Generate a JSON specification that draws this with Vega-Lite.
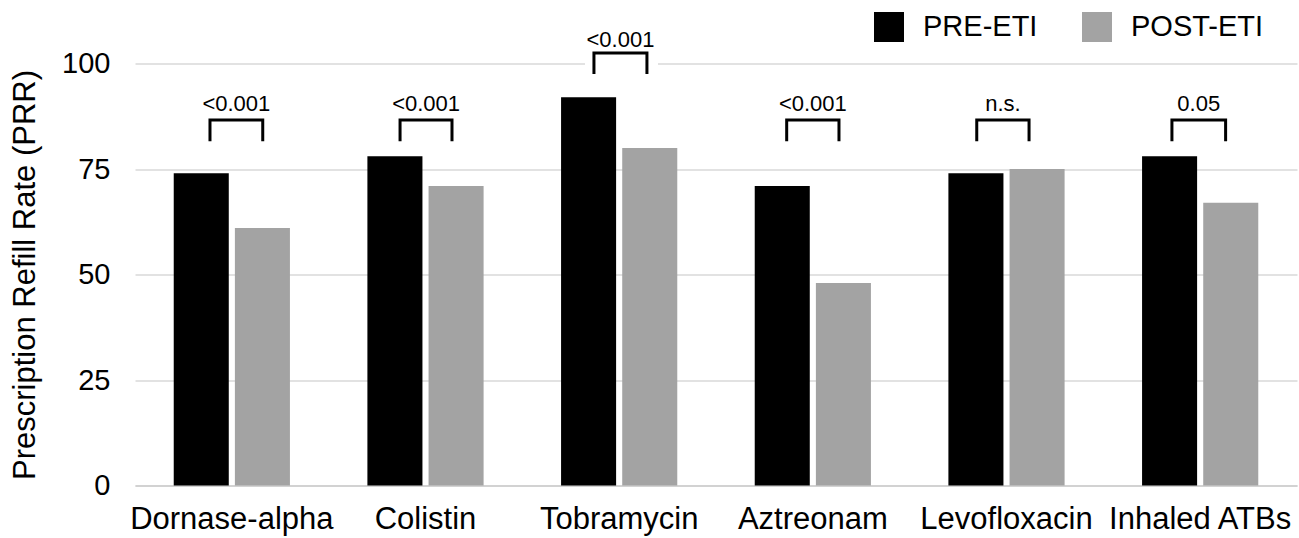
{
  "$schema": "https://vega.github.io/schema/vega-lite/v6.json",
  "width": 1162,
  "height": 422,
  "autosize": {"type": "none"},
  "padding": {"left": 135, "top": 63.5, "right": 2, "bottom": 52.5},
  "config": {
    "view": {"stroke": null},
    "font": "Liberation Sans",
    "legend": {"orient": "none", "legendX": 739, "legendY": -51.5}
  },
  "datasets": {
    "bars": [
      {"drug": "Dornase-alpha", "period": "PRE-ETI", "value": 74},
      {"drug": "Dornase-alpha", "period": "POST-ETI", "value": 61},
      {"drug": "Colistin", "period": "PRE-ETI", "value": 78},
      {"drug": "Colistin", "period": "POST-ETI", "value": 71},
      {"drug": "Tobramycin", "period": "PRE-ETI", "value": 92},
      {"drug": "Tobramycin", "period": "POST-ETI", "value": 80},
      {"drug": "Aztreonam", "period": "PRE-ETI", "value": 71},
      {"drug": "Aztreonam", "period": "POST-ETI", "value": 48},
      {"drug": "Levofloxacin", "period": "PRE-ETI", "value": 74},
      {"drug": "Levofloxacin", "period": "POST-ETI", "value": 75},
      {"drug": "Inhaled ATBs", "period": "PRE-ETI", "value": 78},
      {"drug": "Inhaled ATBs", "period": "POST-ETI", "value": 67}
    ],
    "brackets": [
      {"drug": "Dornase-alpha", "pos": 0.312, "value": 81.6, "seq": 1},
      {"drug": "Dornase-alpha", "pos": 0.312, "value": 86.6, "seq": 2},
      {"drug": "Dornase-alpha", "pos": 0.766, "value": 86.6, "seq": 3},
      {"drug": "Dornase-alpha", "pos": 0.766, "value": 81.6, "seq": 4},
      {"drug": "Colistin", "pos": 0.281, "value": 81.6, "seq": 1},
      {"drug": "Colistin", "pos": 0.281, "value": 86.6, "seq": 2},
      {"drug": "Colistin", "pos": 0.728, "value": 86.6, "seq": 3},
      {"drug": "Colistin", "pos": 0.728, "value": 81.6, "seq": 4},
      {"drug": "Tobramycin", "pos": 0.283, "value": 97.5, "seq": 1},
      {"drug": "Tobramycin", "pos": 0.283, "value": 102.5, "seq": 2},
      {"drug": "Tobramycin", "pos": 0.739, "value": 102.5, "seq": 3},
      {"drug": "Tobramycin", "pos": 0.739, "value": 97.5, "seq": 4},
      {"drug": "Aztreonam", "pos": 0.275, "value": 81.6, "seq": 1},
      {"drug": "Aztreonam", "pos": 0.275, "value": 86.6, "seq": 2},
      {"drug": "Aztreonam", "pos": 0.725, "value": 86.6, "seq": 3},
      {"drug": "Aztreonam", "pos": 0.725, "value": 81.6, "seq": 4},
      {"drug": "Levofloxacin", "pos": 0.244, "value": 81.6, "seq": 1},
      {"drug": "Levofloxacin", "pos": 0.244, "value": 86.6, "seq": 2},
      {"drug": "Levofloxacin", "pos": 0.694, "value": 86.6, "seq": 3},
      {"drug": "Levofloxacin", "pos": 0.694, "value": 81.6, "seq": 4},
      {"drug": "Inhaled ATBs", "pos": 0.257, "value": 81.6, "seq": 1},
      {"drug": "Inhaled ATBs", "pos": 0.257, "value": 86.6, "seq": 2},
      {"drug": "Inhaled ATBs", "pos": 0.719, "value": 86.6, "seq": 3},
      {"drug": "Inhaled ATBs", "pos": 0.719, "value": 81.6, "seq": 4}
    ],
    "labels": [
      {"drug": "Dornase-alpha", "pos": 0.539, "value": 88.7, "label": "<0.001"},
      {"drug": "Colistin", "pos": 0.505, "value": 88.7, "label": "<0.001"},
      {"drug": "Tobramycin", "pos": 0.511, "value": 104.0, "label": "<0.001"},
      {"drug": "Aztreonam", "pos": 0.5, "value": 88.7, "label": "<0.001"},
      {"drug": "Levofloxacin", "pos": 0.469, "value": 88.7, "label": "n.s."},
      {"drug": "Inhaled ATBs", "pos": 0.488, "value": 88.7, "label": "0.05"}
    ],
    "mask": [
      {"drug": "Tobramycin", "pos": 0.52, "value": 100}
    ]
  },
  "encoding": {
    "x": {
      "field": "drug", "type": "nominal", "title": null,
      "scale": {"domain": ["Dornase-alpha", "Colistin", "Tobramycin", "Aztreonam", "Levofloxacin", "Inhaled ATBs"], "paddingInner": 0.4, "paddingOuter": 0.2},
      "axis": {"labelAngle": 0, "labelFontSize": 31, "labelColor": "#000000", "labelPadding": 19, "labelLimit": 0, "ticks": false, "domainColor": "#cccccc", "domainWidth": 1.5, "grid": false, "labelOverlap": false, "labelFont": "Liberation Sans"}
    },
    "y": {
      "field": "value", "type": "quantitative",
      "scale": {"domain": [0, 100], "nice": false},
      "axis": {"values": [0, 25, 50, 75, 100], "title": "Prescription Refill Rate (PRR)", "titleFontSize": 31, "titleFontWeight": "normal", "titleColor": "#000000", "titlePadding": 20, "labelFontSize": 29, "labelColor": "#000000", "labelPadding": 25, "ticks": false, "domain": false, "gridColor": "#d9d9d9", "gridWidth": 1.5, "labelFont": "Liberation Sans", "titleFont": "Liberation Sans"}
    }
  },
  "layer": [
    {
      "data": {"name": "mask"},
      "mark": {"type": "point", "shape": "M-1,-0.25H1V0.25H-1Z", "size": 5329, "filled": true, "color": "#ffffff", "opacity": 1, "strokeWidth": 0},
      "encoding": {
        "xOffset": {"field": "pos", "type": "quantitative", "scale": {"domain": [0, 1], "range": [0, 116.2]}}
      }
    },
    {
      "data": {"name": "bars"},
      "mark": {"type": "bar"},
      "encoding": {
        "xOffset": {"field": "period", "type": "nominal", "scale": {"domain": ["PRE-ETI", "POST-ETI"], "paddingInner": 0.1}},
        "color": {
          "field": "period", "type": "nominal",
          "scale": {"domain": ["PRE-ETI", "POST-ETI"], "range": ["#000000", "#a3a3a3"]},
          "legend": {"title": null, "direction": "horizontal", "symbolType": "square", "symbolSize": 900, "symbolStrokeWidth": 0, "symbolOpacity": 1, "labelFontSize": 29, "labelColor": "#000000", "labelOffset": 19, "columnPadding": 44, "padding": 0, "labelFont": "Liberation Sans"}
        }
      }
    },
    {
      "data": {"name": "brackets"},
      "mark": {"type": "line", "color": "#000000", "strokeWidth": 3, "strokeCap": "butt", "strokeJoin": "miter"},
      "encoding": {
        "xOffset": {"field": "pos", "type": "quantitative", "scale": {"domain": [0, 1], "range": [0, 116.2]}},
        "detail": {"field": "drug", "type": "nominal"},
        "order": {"field": "seq", "type": "quantitative"}
      }
    },
    {
      "data": {"name": "labels"},
      "mark": {"type": "text", "fontSize": 22, "align": "center", "baseline": "alphabetic", "color": "#000000", "font": "Liberation Sans"},
      "encoding": {
        "xOffset": {"field": "pos", "type": "quantitative", "scale": {"domain": [0, 1], "range": [0, 116.2]}},
        "text": {"field": "label", "type": "nominal"}
      }
    }
  ],
  "resolve": {"scale": {"xOffset": "independent"}}
}
